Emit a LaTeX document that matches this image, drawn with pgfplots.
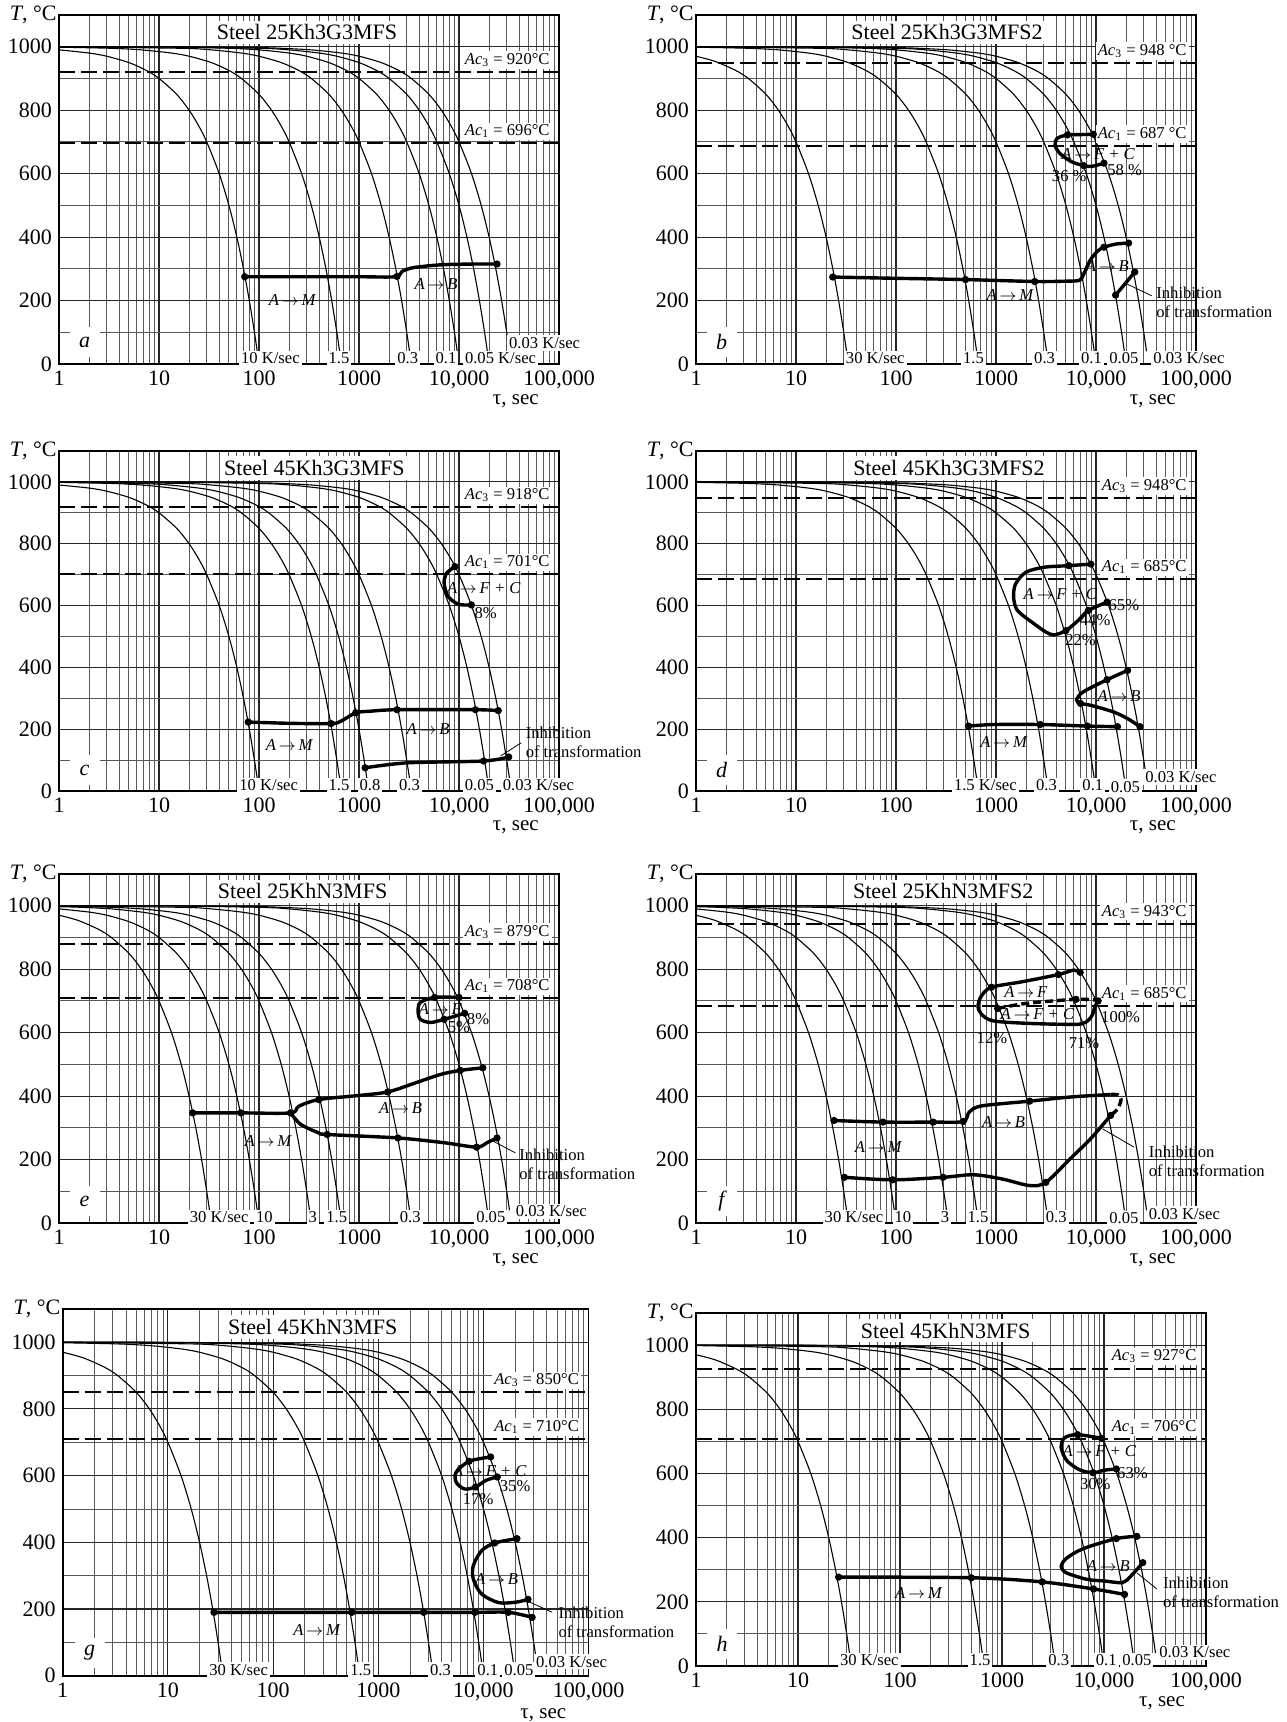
\documentclass[border=0pt]{standalone}
\usepackage{fontspec}
\setmainfont{Liberation Serif}
\usepackage{pgfplots}
\usepackage{pgfplotstable}
\pgfplotsset{compat=1.18}

% cooling curves, one table per rate (K/sec)
\pgfplotstableread{
t T
1 970
1.333 960
1.667 950
2.5 925
3.333 900
5 850
6.667 800
8.333 750
10 700
13.33 600
16.67 500
20 400
23.33 300
26.67 200
30 100
32 40
}\vA
\pgfplotstableread{
t T
1 990
2 980
3 970
5 950
7.5 925
10 900
15 850
20 800
25 750
30 700
40 600
50 500
60 400
70 300
80 200
90 100
96 40
}\vB
\pgfplotstableread{
t T
1 997
1.667 995
3.333 990
6.667 980
10 970
16.67 950
25 925
33.33 900
50 850
66.67 800
83.33 750
100 700
133.3 600
166.7 500
200 400
233.3 300
266.7 200
300 100
320 40
}\vC
\pgfplotstableread{
t T
1 998.5
3.333 995
6.667 990
13.33 980
20 970
33.33 950
50 925
66.67 900
100 850
133.3 800
166.7 750
200 700
266.7 600
333.3 500
400 400
466.7 300
533.3 200
600 100
640 40
}\vD
\pgfplotstableread{
t T
1 999.2
6.25 995
12.5 990
25 980
37.5 970
62.5 950
93.75 925
125 900
187.5 850
250 800
312.5 750
375 700
500 600
625 500
750 400
875 300
1000 200
1125 100
1200 40
}\vE
\pgfplotstableread{
t T
1 999.7
16.67 995
33.33 990
66.67 980
100 970
166.7 950
250 925
333.3 900
500 850
666.7 800
833.3 750
1000 700
1333 600
1667 500
2000 400
2333 300
2667 200
3000 100
3200 40
}\vF
\pgfplotstableread{
t T
1 999.9
10 999
50 995
100 990
200 980
300 970
500 950
750 925
1000 900
1500 850
2000 800
2500 750
3000 700
4000 600
5000 500
6000 400
7000 300
8000 200
9000 100
9600 40
}\vG
\pgfplotstableread{
t T
1 999.95
10 999.5
100 995
200 990
400 980
600 970
1000 950
1500 925
2000 900
3000 850
4000 800
5000 750
6000 700
8000 600
10000 500
12000 400
14000 300
16000 200
18000 100
19200 40
}\vH
\pgfplotstableread{
t T
1 999.97
10 999.7
100 997
166.7 995
333.3 990
666.7 980
1000 970
1667 950
2500 925
3333 900
5000 850
6667 800
8333 750
10000 700
13333 600
16667 500
20000 400
23333 300
26667 200
30000 100
32000 40
}\vI

\pgfplotsset{
  every axis/.append style={
    scale only axis, width=250pt, height=174.5pt, anchor=south west,
    xmode=log, log basis x=10, xmin=1, xmax=100000, ymin=0, ymax=1100,
    xtick={1,10,100,1000,10000,100000},
    xticklabels={1,10,100,1000,{10,000},{100,000}},
    minor xtick={2,3,4,5,6,7,8,9,20,30,40,50,60,70,80,90,200,300,400,500,600,700,800,900,
      2000,3000,4000,5000,6000,7000,8000,9000,20000,30000,40000,50000,60000,70000,80000,90000},
    ytick={0,200,400,600,800,1000},
    yticklabels={0,200,400,600,800,1000},
    minor ytick={100,300,500,700,900},
    grid=both,
    major grid style={black!85, line width=0.55pt},
    minor grid style={black!65, line width=0.45pt},
    major tick length=0pt, minor tick length=0pt,
    axis line style={line width=0.8pt},
    tick label style={font=\fontsize{11}{12}\selectfont},
    clip=false,
  },
  coolcurve/.style={black, line width=0.55pt, smooth},
  trline/.style={black, line width=1.7pt, smooth, tension=0.5},
  trdots/.style={only marks, mark=*, mark size=1.6pt, black},
  acline/.style={black, line width=1pt, dash pattern=on 8pt off 3pt},
}
\tikzset{
  lb/.style={font=\fontsize{8.3}{9.3}\selectfont, inner sep=1pt},
  wl/.style={lb, fill=white},
}
\newcommand{\trans}[2]{\textit{#1}\,$\rightarrow$\,\textit{#2}}
% title, title x, Ac3, Ac1, letter, gap before the degree sign
\newcommand{\panelbits}[6]{%
  \addplot[acline] coordinates {(1,#3) (100000,#3)};
  \addplot[acline] coordinates {(1,#4) (100000,#4)};
  \node[fill=white, inner sep=2pt, font=\fontsize{11}{12}\selectfont] at (axis cs:#2,1045) {#1};
  \node[wl, anchor=south east, yshift=1.5pt] at (axis cs:85000,#3) {\textit{Ac}\textsubscript{3} = #3#6°C};
  \node[wl, anchor=south east, yshift=1.5pt] at (axis cs:85000,#4) {\textit{Ac}\textsubscript{1} = #4#6°C};
  \node[fill=white, minimum width=15pt, minimum height=15pt, inner sep=0pt,
        font=\fontsize{11}{12}\selectfont\itshape] at (axis cs:1.8,68) {#5};
  \node[anchor=east, inner sep=1pt, font=\fontsize{11}{12}\selectfont] at (rel axis cs:0,1) {\textit{T}, °C};
  \node[font=\fontsize{10.5}{12}\selectfont] at (axis cs:37000,-117) {τ, sec};
}
\newcommand{\inhib}[2]{\node[lb, align=left, anchor=north west] at (axis cs:#1,#2) {Inhibition\\of transformation};}

\begin{document}
\begin{tikzpicture}
\useasboundingbox (0,0) rectangle (643pt,861pt);

% ---------------- a
\begin{axis}[at={(29.5pt,679pt)}]
\addplot[coolcurve] table {\vB};
\addplot[coolcurve] table {\vD};
\addplot[coolcurve] table {\vF};
\addplot[coolcurve] table {\vG};
\addplot[coolcurve] table {\vH};
\addplot[coolcurve] table {\vI};
\addplot[trline] coordinates {(72,275) (300,275) (1000,275) (2300,275) (2700,292) (3300,302) (4500,308) (7000,313) (13800,315) (24000,315)};
\addplot[trdots] coordinates {(72,275) (2400,276) (24000,315)};
\node[lb] at (axis cs:217,202) {\trans{A}{M}};
\node[lb] at (axis cs:5900,251) {\trans{A}{B}};
\node[wl] at (axis cs:130,18) {10 K/sec};
\node[wl] at (axis cs:630,18) {1.5};
\node[wl] at (axis cs:3070,18) {0.3};
\node[wl] at (axis cs:7400,18) {0.1};
\node[wl] at (axis cs:26000,18) {0.05 K/sec};
\node[wl, anchor=west] at (axis cs:30000,66) {0.03 K/sec};
\panelbits{Steel 25Kh3G3MFS}{302}{920}{696}{a}{}
\end{axis}

% ---------------- b
\begin{axis}[at={(348pt,679pt)}]
\addplot[coolcurve] table {\vA};
\addplot[coolcurve] table {\vD};
\addplot[coolcurve] table {\vF};
\addplot[coolcurve] table {\vG};
\addplot[coolcurve] table {\vH};
\addplot[coolcurve] table {\vI};
\addplot[trline] coordinates {(12000,633) (9140,623) (7550,625) (5650,638) (4300,665) (3900,690) (4080,711) (5180,722) (7000,723) (9400,724)};
\addplot[trline] coordinates {(23.3,274) (100,270) (495,266) (2440,260) (5000,261) (6870,264) (7550,284) (8700,326) (10300,355) (12000,368) (15900,378) (21200,381)};
\addplot[trline] coordinates {(15700,217) (24400,290)};
\addplot[trdots] coordinates {(23.3,274) (495,266) (2440,260) (12000,368) (21200,381) (15700,217) (24400,290) (9400,724) (5180,722) (7550,625) (12000,633)};
\draw[line width=0.4pt] (axis cs:19500,255) -- (axis cs:36000,215);
\inhib{38000}{250}
\node[lb] at (axis cs:10500,660) {\trans{A}{F + C}};
\node[lb] at (axis cs:5400,592) {36 \%};
\node[lb] at (axis cs:19300,612) {58 \%};
\node[lb] at (axis cs:13000,310) {\trans{A}{B}};
\node[lb] at (axis cs:1390,217) {\trans{A}{M}};
\node[wl] at (axis cs:62,18) {30 K/sec};
\node[wl] at (axis cs:595,18) {1.5};
\node[wl] at (axis cs:3060,18) {0.3};
\node[wl] at (axis cs:9000,18) {0.1};
\node[wl] at (axis cs:19000,18) {0.05};
\node[wl, anchor=west] at (axis cs:35500,18) {0.03 K/sec};
\panelbits{Steel 25Kh3G3MFS2}{324}{948}{687}{b}{~}
\end{axis}

% ---------------- c
\begin{axis}[at={(29.5pt,465.5pt)}, height=170pt]
\addplot[coolcurve] table {\vB};
\addplot[coolcurve] table {\vD};
\addplot[coolcurve] table {\vE};
\addplot[coolcurve] table {\vF};
\addplot[coolcurve] table {\vH};
\addplot[coolcurve] table {\vI};
\addplot[trline] coordinates {(13300,602) (9900,604) (7800,629) (7100,672) (7500,704) (9100,726)};
\addplot[trline] coordinates {(78,223) (200,219) (525,218) (660,226) (927,253) (1290,258) (2400,263) (14600,263) (24700,260)};
\addplot[trline] coordinates {(1150,75) (3030,91) (17600,97) (31400,110)};
\addplot[trdots] coordinates {(13300,602) (9100,726) (78,223) (525,218) (927,253) (2400,263) (14600,263) (24700,260) (1150,75) (17600,97) (31400,110)};
\draw[line width=0.4pt] (axis cs:26000,113) -- (axis cs:42000,156);
\inhib{44000}{215}
\node[lb] at (axis cs:18500,575) {8\%};
\node[lb] at (axis cs:17700,656) {\trans{A}{F + C}};
\node[lb] at (axis cs:4900,199) {\trans{A}{B}};
\node[lb] at (axis cs:202,150) {\trans{A}{M}};
\node[wl] at (axis cs:125,18) {10 K/sec};
\node[wl] at (axis cs:630,18) {1.5};
\node[wl] at (axis cs:1290,18) {0.8};
\node[wl] at (axis cs:3200,18) {0.3};
\node[wl] at (axis cs:16000,18) {0.05};
\node[wl, anchor=west] at (axis cs:26000,18) {0.03 K/sec};
\panelbits{Steel 45Kh3G3MFS}{358}{918}{701}{c}{}
\end{axis}

% ---------------- d
\begin{axis}[at={(348pt,465.5pt)}, height=170pt]
\addplot[coolcurve] table {\vD};
\addplot[coolcurve] table {\vF};
\addplot[coolcurve] table {\vG};
\addplot[coolcurve] table {\vH};
\addplot[coolcurve] table {\vI};
\addplot[trline] coordinates {(12900,611) (8400,584) (6650,552) (5000,519) (3800,505) (3170,514) (2400,541) (1640,584) (1500,627) (1570,670) (2000,708) (3050,724) (5350,729) (8900,734)};
\addplot[trline] coordinates {(20700,390) (12900,360) (7400,320) (6400,294) (7000,283) (8900,277) (14900,256) (20700,234) (27500,208)};
\addplot[trline] coordinates {(530,210) (950,215) (2770,215) (8200,210) (16400,208)};
\addplot[trdots] coordinates {(12900,611) (8400,584) (5000,519) (5350,729) (8900,734) (20700,390) (12900,360) (7000,283) (27500,208) (530,210) (2770,215) (8200,210) (16400,208)};
\node[lb] at (axis cs:19000,600) {65\%};
\node[lb] at (axis cs:9800,552) {44\%};
\node[lb] at (axis cs:7000,487) {22\%};
\node[lb] at (axis cs:4400,638) {\trans{A}{F + C}};
\node[lb] at (axis cs:17000,306) {\trans{A}{B}};
\node[lb] at (axis cs:1200,159) {\trans{A}{M}};
\node[wl] at (axis cs:783,18) {1.5 K/sec};
\node[wl] at (axis cs:3200,18) {0.3};
\node[wl] at (axis cs:9300,18) {0.1};
\node[wl] at (axis cs:19700,14) {0.05};
\node[wl, anchor=west] at (axis cs:29500,45) {0.03 K/sec};
\panelbits{Steel 45Kh3G3MFS2}{338}{948}{685}{d}{}
\end{axis}

% ---------------- e
\begin{axis}[at={(29.5pt,249.5pt)}]
\addplot[coolcurve] table {\vA};
\addplot[coolcurve] table {\vB};
\addplot[coolcurve] table {\vC};
\addplot[coolcurve] table {\vD};
\addplot[coolcurve] table {\vF};
\addplot[coolcurve] table {\vH};
\addplot[coolcurve] table {\vI};
\addplot[trline] coordinates {(11400,661) (7100,642) (5200,632) (4100,642) (3900,668) (4100,695) (5700,711) (10000,711)};
\addplot[trline] coordinates {(21.7,347) (66,347) (207,347) (250,368) (396,389) (1000,402) (1940,413) (3700,442) (6500,468) (10300,481) (17300,489)};
\addplot[trline] coordinates {(207,347) (261,311) (396,284) (480,279) (2450,268) (7100,253) (15000,239) (19000,253) (24000,268)};
\addplot[trdots] coordinates {(11400,661) (7100,642) (5700,711) (10000,711) (21.7,347) (66,347) (207,347) (396,389) (1940,413) (10300,481) (17300,489) (480,279) (2450,268) (15000,239) (24000,268)};
\draw[line width=0.4pt] (axis cs:22000,258) -- (axis cs:36600,221);
\inhib{38000}{240}
\node[lb] at (axis cs:15500,642) {8\%};
\node[lb] at (axis cs:10000,616) {5\%};
\node[lb] at (axis cs:6500,674) {\trans{A}{F}};
\node[lb] at (axis cs:2600,363) {\trans{A}{B}};
\node[lb] at (axis cs:124,258) {\trans{A}{M}};
\node[wl] at (axis cs:40,18) {30 K/sec};
\node[wl] at (axis cs:113,18) {10};
\node[wl] at (axis cs:345,18) {3};
\node[wl] at (axis cs:600,18) {1.5};
\node[wl] at (axis cs:3250,18) {0.3};
\node[wl] at (axis cs:20800,18) {0.05};
\node[wl, anchor=west] at (axis cs:35000,37) {0.03 K/sec};
\panelbits{Steel 25KhN3MFS}{273}{879}{708}{e}{}
\end{axis}

% ---------------- f
\begin{axis}[at={(348pt,249.5pt)}]
\addplot[coolcurve] table {\vA};
\addplot[coolcurve] table {\vB};
\addplot[coolcurve] table {\vC};
\addplot[coolcurve] table {\vD};
\addplot[coolcurve] table {\vF};
\addplot[coolcurve] table {\vH};
\addplot[coolcurve] table {\vI};
\addplot[trline] coordinates {(6950,790) (6000,797) (4200,783) (1800,760) (900,743) (716,716) (660,684) (716,658) (940,637) (2170,629) (6100,626) (7800,632) (9100,653) (9800,684) (10500,700)};
\addplot[trline, dash pattern=on 4pt off 2pt] coordinates {(1040,676) (1990,692) (6300,705) (10500,702)};
\addplot[trline] coordinates {(24,323) (74,318) (235,318) (470,320) (540,350) (720,369) (2170,384) (5500,397) (14000,405)};
\addplot[trline, dash pattern=on 4pt off 2pt] coordinates {(14000,405) (16500,404) (17800,390) (16500,360) (14000,339)};
\addplot[trline] coordinates {(14000,339) (8800,265) (5500,202) (3150,128) (2170,118) (1140,139) (595,152) (296,144) (93,136) (30.5,144)};
\addplot[trdots] coordinates {(900,743) (4200,783) (6950,790) (1040,676) (6300,705) (10500,700) (24,323) (74,318) (235,318) (470,320) (2170,384) (30.5,144) (93,136) (296,144) (3150,128) (14000,339)};
\draw[line width=0.4pt] (axis cs:11600,297) -- (axis cs:24000,239);
\inhib{32000}{250}
\node[lb] at (axis cs:1990,727) {\trans{A}{F}};
\node[lb] at (axis cs:2600,660) {\trans{A}{F + C}};
\node[lb] at (axis cs:910,582) {12\%};
\node[lb] at (axis cs:7600,568) {71\%};
\node[lb] at (axis cs:17600,650) {100\%};
\node[lb] at (axis cs:1190,318) {\trans{A}{B}};
\node[lb] at (axis cs:67,241) {\trans{A}{M}};
\node[wl] at (axis cs:38,18) {30 K/sec};
\node[wl] at (axis cs:117,18) {10};
\node[wl] at (axis cs:310,18) {3};
\node[wl] at (axis cs:660,18) {1.5};
\node[wl] at (axis cs:4000,18) {0.3};
\node[wl] at (axis cs:19000,15) {0.05};
\node[wl, anchor=west] at (axis cs:32000,28) {0.03 K/sec};
\panelbits{Steel 25KhN3MFS2}{297}{943}{685}{f}{}
\end{axis}

% ---------------- g
\begin{axis}[at={(31.35pt,23.15pt)}, width=263pt, height=183.4pt]
\addplot[coolcurve] table {\vA};
\addplot[coolcurve] table {\vD};
\addplot[coolcurve] table {\vF};
\addplot[coolcurve] table {\vG};
\addplot[coolcurve] table {\vH};
\addplot[coolcurve] table {\vI};
\addplot[trline] coordinates {(13500,596) (10600,586) (8400,566) (6600,560) (5500,580) (5500,610) (7300,643) (11700,656)};
\addplot[trline] coordinates {(20800,411) (12800,398) (9600,375) (8000,330) (8000,290) (9600,245) (14000,219) (20800,221) (26500,229)};
\addplot[trline] coordinates {(27.4,190) (560,190) (2700,190) (8300,190) (17200,190) (29000,175)};
\addplot[trdots] coordinates {(13500,596) (8400,566) (7300,643) (11700,656) (20800,411) (12800,398) (26500,229) (27.4,190) (560,190) (2700,190) (8300,190) (17200,190) (29000,175)};
\draw[line width=0.4pt] (axis cs:27000,222) -- (axis cs:45000,190);
\inhib{49000}{212}
\node[lb] at (axis cs:11500,615) {\trans{A}{F + C}};
\node[lb] at (axis cs:20000,570) {35\%};
\node[lb] at (axis cs:8900,530) {17\%};
\node[lb] at (axis cs:13300,290) {\trans{A}{B}};
\node[lb] at (axis cs:261,138) {\trans{A}{M}};
\node[wl] at (axis cs:47,18) {30 K/sec};
\node[wl] at (axis cs:680,18) {1.5};
\node[wl] at (axis cs:3900,18) {0.3};
\node[wl] at (axis cs:11000,18) {0.1};
\node[wl] at (axis cs:21700,18) {0.05};
\node[wl, anchor=west] at (axis cs:30000,42) {0.03 K/sec};
\panelbits{Steel 45KhN3MFS}{238}{850}{710}{g}{}
\end{axis}

% ---------------- h
\begin{axis}[at={(348pt,28pt)}, width=255pt, height=176.5pt]
\addplot[coolcurve] table {\vA};
\addplot[coolcurve] table {\vD};
\addplot[coolcurve] table {\vF};
\addplot[coolcurve] table {\vG};
\addplot[coolcurve] table {\vH};
\addplot[coolcurve] table {\vI};
\addplot[trline] coordinates {(13200,614) (10000,610) (7800,602) (5700,612) (4300,641) (3800,681) (4100,711) (5500,721) (9500,709)};
\addplot[trline] coordinates {(21000,404) (13200,397) (6300,366) (4300,336) (3800,310) (4300,290) (6800,270) (10000,265) (15200,260) (18300,280) (24000,322)};
\addplot[trline] coordinates {(25,277) (500,275) (2480,262) (7900,240) (15900,223)};
\addplot[trdots] coordinates {(13200,614) (7800,602) (5500,721) (9500,709) (21000,404) (13200,397) (24000,322) (25,277) (500,275) (2480,262) (7900,240) (15900,223)};
\draw[line width=0.4pt] (axis cs:21000,290) -- (axis cs:33000,240);
\inhib{36000}{285}
\node[lb] at (axis cs:9000,671) {\trans{A}{F + C}};
\node[lb] at (axis cs:19000,600) {63\%};
\node[lb] at (axis cs:8200,566) {30\%};
\node[lb] at (axis cs:11000,310) {\trans{A}{B}};
\node[lb] at (axis cs:153,228) {\trans{A}{M}};
\node[wl] at (axis cs:50,18) {30 K/sec};
\node[wl] at (axis cs:610,18) {1.5};
\node[wl] at (axis cs:3600,18) {0.3};
\node[wl] at (axis cs:10500,18) {0.1};
\node[wl] at (axis cs:21000,18) {0.05};
\node[wl, anchor=west] at (axis cs:33000,42) {0.03 K/sec};
\panelbits{Steel 45KhN3MFS}{280}{927}{706}{h}{}
\end{axis}
\end{tikzpicture}
\end{document}
